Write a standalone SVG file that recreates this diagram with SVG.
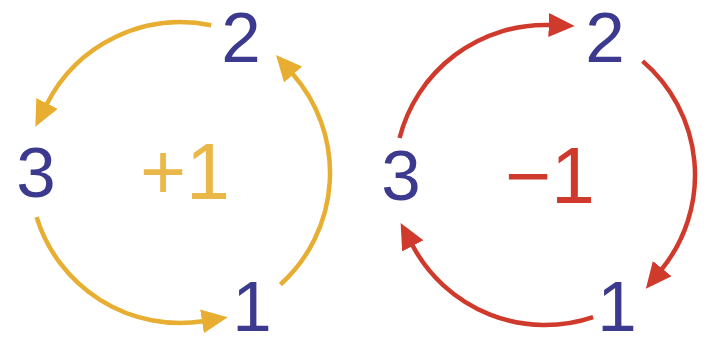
<svg xmlns="http://www.w3.org/2000/svg" width="711" height="337" viewBox="0 0 711 337">
  <style>
    .num { font-family: "Liberation Sans", Arial, sans-serif; font-size: 71px; fill: #3C3A8E; text-anchor: middle; }
    .sign { font-family: "Liberation Sans", Arial, sans-serif; font-size: 79px; text-anchor: middle; }
    .gold { fill: none; stroke: #E8AE32; stroke-width: 4.5; marker-end: url(#ag); }
    .red { fill: none; stroke: #CF3A2C; stroke-width: 4.5; marker-end: url(#ar); }
  </style>
  <defs>
    <marker id="ag" markerUnits="userSpaceOnUse" markerWidth="27" markerHeight="25" refX="1" refY="12" orient="auto">
      <path d="M0,0 L26,12 L0,24 Z" fill="#E8AE32"/>
    </marker>
    <marker id="ar" markerUnits="userSpaceOnUse" markerWidth="27" markerHeight="25" refX="1" refY="12" orient="auto">
      <path d="M0,0 L26,12 L0,24 Z" fill="#CF3A2C"/>
    </marker>
  </defs>
  <rect width="711" height="337" fill="#FFFFFF"/>
  <g id="connectors">
    <path class="gold" d="M211.2,25.3 A150,150 0 0 0 46.6,104.4"/>
    <path class="gold" d="M36.6,217.1 A150,150 0 0 0 203,321.2"/>
    <path class="gold" d="M280.4,284.5 A150,150 0 0 0 292.5,73.8"/>
    <path class="red" d="M399.6,138 A150,150 0 0 1 549.7,25.1"/>
    <path class="red" d="M642.6,61.1 A150,150 0 0 1 661.6,269.4"/>
    <path class="red" d="M593.1,317.1 A150,150 0 0 1 412.3,245"/>
  </g>
  <g id="left-2"><text class="num" x="241" y="62">2</text></g>
  <g id="left-3"><text class="num" x="36" y="197">3</text></g>
  <g id="left-1"><text class="num" x="252" y="331">1</text></g>
  <g id="left-sign"><text class="sign" x="185" y="199" fill="#E9B848">+1</text></g>
  <g id="right-2"><text class="num" x="605" y="62">2</text></g>
  <g id="right-3"><text class="num" x="401" y="200">3</text></g>
  <g id="right-1"><text class="num" x="617" y="331">1</text></g>
  <g id="right-sign"><text class="sign" x="550" y="203" fill="#CF3A2C">−1</text></g>
</svg>
